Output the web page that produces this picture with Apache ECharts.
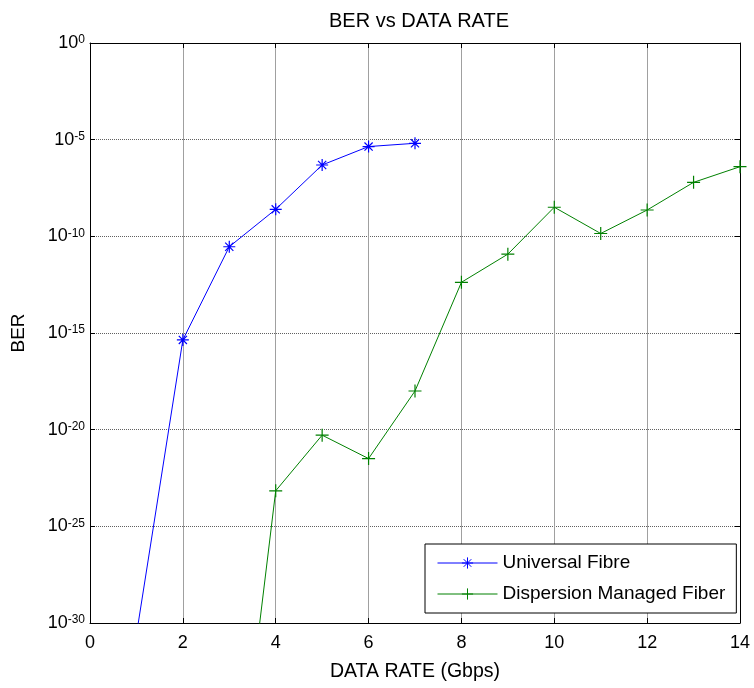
<!DOCTYPE html>
<html>
<head>
<meta charset="utf-8">
<script src="https://cdn.jsdelivr.net/npm/echarts@6/dist/echarts.min.js"></script>
<style>
  html, body { margin: 0; padding: 0; background: #fff; }
  #chart { width: 754px; height: 688px; }
</style>
</head>
<body>
<div id="chart"></div>
<script>
// Data rate (Gbps) and bit error rate for each fibre type
const universalRate = [1, 2, 3, 4, 5, 6, 7];
const universalBER = [2.5e-31, 4.4e-16, 2.9e-11, 2.5e-9, 4.9e-7, 4.4e-6, 6.5e-6];

const dmfRate = [3, 4, 5, 6, 7, 8, 9, 10, 11, 12, 13, 14];
const dmfBER = [1e-43, 6.9e-24, 5.2e-21, 3.2e-22, 1.0e-18, 4.2e-13, 1.2e-11, 3.2e-9, 1.4e-10, 2.3e-9, 6.2e-8, 4.0e-7];

const xTicks = [0, 2, 4, 6, 8, 10, 12, 14];
const yTickExponents = [-30, -25, -20, -15, -10, -5, 0];

const FONT = '"Liberation Sans", Arial, Helvetica, sans-serif';
const asterisk = 'path://M5,0L5,10M0,5L10,5M1.6,1.6L8.4,8.4M8.4,1.6L1.6,8.4';
const plus = 'path://M5,0L5,10M0,5L10,5';

// BER is plotted on a decade (log10) scale
function pairs(xs, ys) { return xs.map((x, i) => [x, Math.log10(ys[i])]); }

const tickStyle = { show: true, inside: true, length: 5, lineStyle: { color: '#000', width: 1 } };
const frameLine = { show: true, onZero: false, lineStyle: { color: '#000', width: 1 } };

const xRange = { type: 'value', min: xTicks[0], max: xTicks[xTicks.length - 1], interval: 2 };
const yRange = { type: 'value', min: yTickExponents[0], max: yTickExponents[yTickExponents.length - 1], interval: 5 };

const chart = echarts.init(document.getElementById('chart'), null, { renderer: 'canvas' });

chart.setOption({
  animation: false,
  backgroundColor: '#fff',
  title: {
    text: 'BER vs DATA RATE',
    left: 414, top: 6, textAlign: 'center',
    textStyle: { fontFamily: FONT, fontSize: 20, fontWeight: 'normal', color: '#000' }
  },
  grid: { left: 90, right: 14, top: 43, bottom: 65 },
  legend: {
    orient: 'vertical',
    left: 425, top: 544,
    backgroundColor: '#fff',
    borderColor: '#000', borderWidth: 1, borderRadius: 0,
    padding: [9, 11, 9, 12],
    itemWidth: 60, itemHeight: 14, itemGap: 11,
    lineStyle: { width: 1 },
    itemStyle: { borderWidth: 1 },
    textStyle: { fontFamily: FONT, fontSize: 19, lineHeight: 20, color: '#000' },
    data: ['Universal Fibre', 'Dispersion Managed Fiber']
  },
  xAxis: [
    Object.assign({}, xRange, {
      position: 'bottom',
      name: 'DATA RATE (Gbps)', nameLocation: 'middle', nameGap: 39,
      nameTextStyle: { fontFamily: FONT, fontSize: 19.5, color: '#000' },
      axisLine: frameLine, axisTick: tickStyle,
      axisLabel: { fontFamily: FONT, fontSize: 18, color: '#000', margin: 11 },
      splitLine: { show: true, lineStyle: { color: '#a0a0a0', width: 1 } }
    }),
    Object.assign({}, xRange, {
      position: 'top',
      axisLine: frameLine, axisTick: tickStyle,
      axisLabel: { show: false }, splitLine: { show: false }
    })
  ],
  yAxis: [
    Object.assign({}, yRange, {
      position: 'left',
      name: 'BER', nameLocation: 'middle', nameGap: 62,
      nameTextStyle: { fontFamily: FONT, fontSize: 19, color: '#000' },
      axisLine: frameLine, axisTick: tickStyle,
      axisLabel: {
        margin: 5,
        formatter: v => '{b|10}{s|' + v + '}',
        rich: {
          b: { fontFamily: FONT, fontSize: 18, lineHeight: 18, color: '#000', verticalAlign: 'bottom', padding: [6, 0, 0, 0] },
          s: { fontFamily: FONT, fontSize: 12, lineHeight: 12, color: '#000', verticalAlign: 'top' }
        }
      },
      splitLine: { show: true, lineStyle: { color: '#606060', width: 1, type: [1, 1] } }
    }),
    Object.assign({}, yRange, {
      position: 'right',
      axisLine: frameLine, axisTick: tickStyle,
      axisLabel: { show: false }, splitLine: { show: false }
    })
  ],
  series: [
    {
      name: 'Universal Fibre', type: 'line',
      xAxisIndex: 0, yAxisIndex: 0,
      data: pairs(universalRate, universalBER),
      symbol: asterisk, symbolSize: 12,
      lineStyle: { color: '#0000ff', width: 1 },
      itemStyle: { color: '#0000ff', borderColor: '#0000ff', borderWidth: 1.2 }
    },
    {
      name: 'Dispersion Managed Fiber', type: 'line',
      xAxisIndex: 0, yAxisIndex: 0,
      data: pairs(dmfRate, dmfBER),
      symbol: plus, symbolSize: 13,
      lineStyle: { color: '#008000', width: 1 },
      itemStyle: { color: '#008000', borderColor: '#008000', borderWidth: 1.2 }
    }
  ]
});
</script>
</body>
</html>
